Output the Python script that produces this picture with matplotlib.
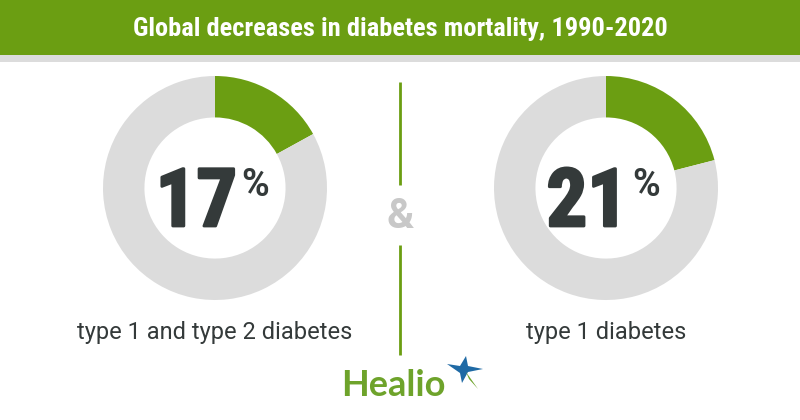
import matplotlib.pyplot as plt
import matplotlib.patheffects as pe
from matplotlib.patches import Rectangle, Polygon

# values of the two donuts (percent decrease)
shares = [17, 21]
labels = ["type 1 and type 2 diabetes", "type 1 diabetes"]
title = "Global decreases in diabetes mortality, 1990-2020"

green = "#6b9e12"
ring_gray = "#dcdcdc"
dark = "#343a3a"

W, H = 800, 420
fig = plt.figure(figsize=(8, 4.2), dpi=100)
fig.patch.set_facecolor("white")

# background / overlay axes in pixel coordinates
bg = fig.add_axes([0, 0, 1, 1], zorder=0)
bg.set_xlim(0, W)
bg.set_ylim(H, 0)
bg.axis("off")
bg.add_patch(Rectangle((0, 0), W, 55, color=green, lw=0))
bg.add_patch(Rectangle((0, 55), W, 7, color=ring_gray, lw=0))
bg.text(W / 2, 29, title, color="white", fontsize=19, fontweight="bold",
        family=["Roboto Condensed", "Liberation Sans Narrow", "DejaVu Sans"],
        fontstretch="condensed", ha="center", va="center")

# donuts
centers = [(215, 188), (606, 188)]
R = 112
for (cx, cy), val in zip(centers, shares):
    ax = fig.add_axes([(cx - R) / W, (H - cy - R) / H, 2 * R / W, 2 * R / H], zorder=1)
    ax.pie([val, 100 - val], colors=[green, ring_gray], startangle=90,
           counterclock=False, radius=1,
           wedgeprops=dict(width=0.37, linewidth=0))
    ax.set_xlim(-1, 1)
    ax.set_ylim(-1, 1)
    ax.set_aspect("equal")
    ax.axis("off")

top = fig.add_axes([0, 0, 1, 1], zorder=5)
top.set_xlim(0, W)
top.set_ylim(H, 0)
top.axis("off")
top.patch.set_alpha(0)

thick = [pe.withStroke(linewidth=2, foreground=dark)]
for (cx, cy), val, lab in zip(centers, shares, labels):
    top.text(cx + 22, 226, str(val), color=dark, fontsize=58, fontweight="black",
             family=["Roboto Condensed", "Roboto"], ha="right", va="baseline",
             path_effects=thick)
    top.text(cx + 26, 167, "%", color=dark, fontsize=27, fontweight="bold",
             family="Roboto", ha="left", va="top")
    top.text(cx, 333, lab, color=dark, fontsize=17, family="Roboto",
             ha="center", va="center")

# divider with ampersand
top.plot([400, 400], [82, 185], color=green, lw=2, solid_capstyle="butt")
top.plot([400, 400], [245, 355], color=green, lw=2, solid_capstyle="butt")
top.text(400, 217, "&", color="#c8c8c8", fontsize=30, fontweight="bold",
         family="Roboto", ha="center", va="center")

# Healio logo
top.text(341, 396, "Healio", color="#6ea32b", fontsize=26, fontweight="bold",
         family="Lato", ha="left", va="baseline")
star = [[447, 364], [460, 366], [466, 356], [468, 366], [483, 369],
        [468, 372], [462, 383], [460, 373]]
top.add_patch(Polygon(star, closed=True, color="#1f6aa5", lw=0))
top.add_patch(Polygon([[466, 372], [478, 389], [469, 379]],
                      closed=True, color="#6ea32b", lw=0))

fig.savefig("out.png", dpi=100)
